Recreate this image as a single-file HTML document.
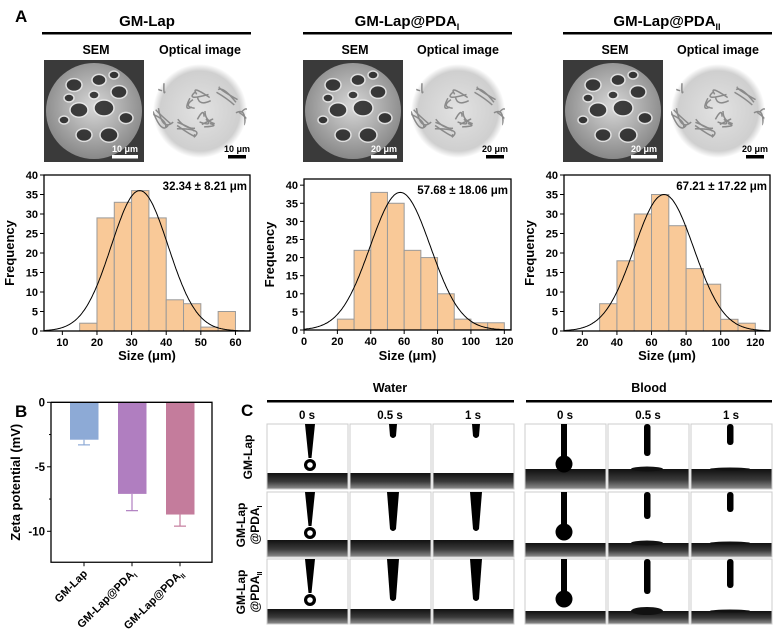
<!DOCTYPE html>
<html><head><meta charset="utf-8"><style>
body{margin:0;background:#fff}
svg{display:block;font-family:"Liberation Sans",Arial,sans-serif;font-weight:bold}
</style></head><body>
<svg id="fig" width="781" height="644" viewBox="0 0 781 644" xmlns="http://www.w3.org/2000/svg">
<defs>
<radialGradient id="semg" cx="50%" cy="45%" r="55%"><stop offset="0" stop-color="#d8d8d8"/><stop offset="1" stop-color="#888"/></radialGradient>
<radialGradient id="optg" cx="50%" cy="50%" r="50%"><stop offset="0" stop-color="#e2e2e2"/><stop offset="0.85" stop-color="#cfcfcf"/><stop offset="1" stop-color="#fff"/></radialGradient>
<linearGradient id="subg" x1="0" y1="0" x2="0" y2="1"><stop offset="0" stop-color="#111"/><stop offset="0.55" stop-color="#3a3a3a"/><stop offset="1" stop-color="#8a8a8a"/></linearGradient>
</defs>
<g id="root"></g>
</svg>
<script>
// ---- Histogram data ----
const h1Bins=[15,20,25,30,35,40,45,50,55];
const h1Counts=[2,29,33,36,29,8,7,1,5];
const h2Bins=[20,30,40,50,60,70,80,90,100,110];
const h2Counts=[3,22,38,35,22,20,10,3,2,2];
const h3Bins=[30,40,50,60,70,80,90,100,110];
const h3Counts=[7,18,30,35,27,16,12,3,2];
const fitMeans=[32.34,57.68,67.21];
const fitSDs=[8.21,18.06,17.22];
const fitPeaks=[36,38,35];
const fitLabels=["32.34 \u00b1 8.21 \u03bcm","57.68 \u00b1 18.06 \u03bcm","67.21 \u00b1 17.22 \u03bcm"];
const h1XTicks=[10,20,30,40,50,60];
const h2XTicks=[0,20,40,60,80,100,120];
const h3XTicks=[20,40,60,80,100,120];
const hYTicks=[0,5,10,15,20,25,30,35,40];
// ---- Zeta data ----
const zCats=["GM-Lap","GM-Lap@PDA_I","GM-Lap@PDA_II"];
const zVals=[-2.9,-7.1,-8.7];
const zErrs=[0.4,1.3,0.9];
const zYTicks=[0,-5,-10];
// ---- Panel C labels ----
const cTimes=["0 s","0.5 s","1 s"];
const cRows=["GM-Lap","GM-Lap@PDA_I","GM-Lap@PDA_II"];

const NS="http://www.w3.org/2000/svg";
const root=document.getElementById('root');
function el(tag,attrs,parent,text){const e=document.createElementNS(NS,tag);for(const k in attrs)e.setAttribute(k,attrs[k]);if(text!==undefined)e.textContent=text;(parent||root).appendChild(e);return e;}
function txt(x,y,s,size,parent,anchor){return el('text',{x:x,y:y,'font-size':size,'text-anchor':anchor||'middle',fill:'#000'},parent,s);}
function subText(x,y,base,sub,size,parent,anchor){const t=el('text',{x:x,y:y,'font-size':size,'text-anchor':anchor||'middle'},parent);el('tspan',{},t,base);el('tspan',{'font-size':size*0.6,dy:size*0.25},t,sub);return t;}

const la=txt(15,22,"A",17,root,'start');



// ---- Top groups ----
const groups=[{cx:147,x0:42,x1:251,t:"GM-Lap",s:"",sem:44,opt:150,sb:"10 \u03bcm"},
{cx:407,x0:303,x1:512,t:"GM-Lap@PDA",s:"I",sem:303,opt:408,sb:"20 \u03bcm"},
{cx:667,x0:563,x1:772,t:"GM-Lap@PDA",s:"II",sem:563,opt:668,sb:"20 \u03bcm"}];
const defs=document.querySelector('defs');
groups.forEach((g,i)=>{
  const G=el('g',{});
  
  
  const t=subText(g.cx,26,g.t,g.s,15,G);
  
  
  el('rect',{x:g.x0,y:32,width:g.x1-g.x0,height:2.5,fill:'#000'},G);
  txt(g.sem+52,54,"SEM",12.5,G);
  txt(g.opt+50,54,"Optical image",12.5,G);
  const s=el('g',{},G);
  
  
  el('rect',{x:g.sem,y:60,width:100,height:102,fill:'#3a3a3a'},s);
  el('circle',{cx:g.sem+50,cy:111,r:48,fill:'url(#semg)'},s);
  const holes=[[30,85,8],[55,80,7],[75,92,8],[35,110,9],[60,108,10],[82,118,7],[40,135,8],[65,135,9],[20,120,5],[50,95,5],[25,98,5],[70,75,5]];
  holes.forEach(h=>el('ellipse',{cx:g.sem+h[0],cy:h[1],rx:h[2],ry:h[2]*0.8,fill:'#1a1a1a',opacity:0.8,stroke:'#eee','stroke-width':1.5},s));
  el('rect',{x:g.sem+68,y:155,width:26,height:3.5,fill:'#fff'},s);
  el('text',{x:g.sem+81,y:152,'font-size':9,'text-anchor':'middle',fill:'#fff'},s,g.sb);
  const cp=el('clipPath',{id:'oc'+i},defs);
  el('circle',{cx:g.opt+50,cy:111,r:47},cp);
  const o=el('g',{},G);
  
  
  el('circle',{cx:g.opt+50,cy:111,r:47,fill:'url(#optg)'},o);
  const oc=el('g',{'clip-path':'url(#oc'+i+')'},o);
  for(let k=0;k<26;k++){const a=k*0.9,r=5+(k*11)%40;const px=g.opt+50+Math.cos(a)*r,py=111+Math.sin(a)*r;
    el('path',{d:`M${px} ${py} q ${12*Math.sin(k)} ${10*Math.cos(k*1.3)} ${18*Math.cos(a+1)} ${14*Math.sin(a+2)}`,stroke:'#8a8a8a',fill:'none','stroke-width':1.5},oc);}
  el('rect',{x:g.opt+78,y:155,width:18,height:3.5,fill:'#000'},o);
  el('text',{x:g.opt+87,y:152,'font-size':9,'text-anchor':'middle'},o,g.sb);
});

// ---- Histograms ----
const hists=[
 {bins:h1Bins,counts:h1Counts,w:5,xt:h1XTicks,x0:44,x1:250,y0:331,y1:175,xmin:4.7,xmax:64.2,ymax:40},
 {bins:h2Bins,counts:h2Counts,w:10,xt:h2XTicks,x0:304,x1:511,y0:330,y1:179,xmin:0,xmax:124,ymax:41.7},
 {bins:h3Bins,counts:h3Counts,w:10,xt:h3XTicks,x0:564,x1:770,y0:331,y1:175,xmin:9.4,xmax:128.5,ymax:40}];
hists.forEach((h,i)=>{
  const G=el('g',{});
  
  
  const X=v=>h.x0+(v-h.xmin)/(h.xmax-h.xmin)*(h.x1-h.x0);
  const Y=v=>h.y0-v/h.ymax*(h.y0-h.y1);
  h.bins.forEach((b,j)=>{
    const r=el('rect',{x:X(b),y:Y(h.counts[j]),width:X(b+h.w)-X(b),height:h.y0-Y(h.counts[j]),fill:'#f9c998',stroke:'#9a9a9a','stroke-width':1},G);
    
    
  });
  let d="";
  for(let k=0;k<=200;k++){const v=h.xmin+(h.xmax-h.xmin)*k/200;const c=fitPeaks[i]*Math.exp(-0.5*Math.pow((v-fitMeans[i])/fitSDs[i],2));d+=(k?"L":"M")+X(v).toFixed(1)+" "+Y(c).toFixed(1);}
  const fc=el('path',{d:d,fill:'none',stroke:'#000','stroke-width':1},G);
  
  
  el('rect',{x:h.x0,y:h.y1,width:h.x1-h.x0,height:h.y0-h.y1,fill:'none',stroke:'#000','stroke-width':1.3},G);
  hYTicks.forEach(v=>{if(v>h.ymax)return;el('line',{x1:h.x0-4,x2:h.x0,y1:Y(v),y2:Y(v),stroke:'#000'},G);txt(h.x0-6,Y(v)+4,String(v),11,G,'end');});
  h.xt.forEach(v=>{el('line',{x1:X(v),x2:X(v),y1:h.y0,y2:h.y0+4,stroke:'#000'},G);txt(X(v),h.y0+15,String(v),11,G);});
  txt(h.x1-3,h.y1+15,fitLabels[i],11.5,G,'end');
  txt((h.x0+h.x1)/2,360,"Size (\u03bcm)",13,G);
  el('text',{x:0,y:0,'font-size':13,'text-anchor':'middle',transform:`translate(${h.x0-30},${(h.y0+h.y1)/2}) rotate(-90)`},G,"Frequency");
});

// ---- Panel B ----
const lb=txt(15,417,"B",17,root,'start');


(function(){
  const G=el('g',{});
  
  
  const x0=51,x1=212,yTop=402.3,ymin=-12.4,ppu=12.9;
  const Y=v=>yTop-v*ppu;
  const colors=['#8daad6','#b07ec0','#c47c9c'];
  const X=i=>x0+33+i*48;
  zVals.forEach((v,i)=>{
    const r=el('rect',{x:X(i)-14,y:Y(0),width:28.5,height:Y(v)-Y(0),fill:colors[i]},G);
    
    
    el('line',{x1:X(i),x2:X(i),y1:Y(v),y2:Y(v-zErrs[i]),stroke:colors[i],'stroke-width':1.2},G);
    el('line',{x1:X(i)-6,x2:X(i)+6,y1:Y(v-zErrs[i]),y2:Y(v-zErrs[i]),stroke:colors[i],'stroke-width':1.2},G);
    el('line',{x1:X(i),x2:X(i),y1:Y(ymin),y2:Y(ymin)+4,stroke:'#000'},G);
    const parts=zCats[i].split('_');
    const t=el('text',{x:0,y:0,'font-size':11,'text-anchor':'end',transform:`translate(${X(i)+4},${Y(ymin)+12}) rotate(-45)`},G);
    el('tspan',{},t,parts[0]);
    if(parts[1]){el('tspan',{'font-size':7,dy:3},t,parts[1]);}
  });
  el('path',{d:`M${x0} ${Y(0)} V${Y(ymin)} H${x1} V${Y(0)} H${x0}`,fill:'none',stroke:'#000','stroke-width':1.3},G);
  zYTicks.forEach(v=>{el('line',{x1:x0-4,x2:x0,y1:Y(v),y2:Y(v),stroke:'#000'},G);txt(x0-6,Y(v)+4,String(v),11.5,G,'end');});
  [-2.5,-7.5].forEach(v=>{el('line',{x1:x0-2,x2:x0,y1:Y(v),y2:Y(v),stroke:'#000'},G);});
  el('text',{x:0,y:0,'font-size':13,'text-anchor':'middle',transform:`translate(20,${(Y(0)+Y(ymin))/2}) rotate(-90)`},G,"Zeta potential (mV)");
})();

// ---- Panel C ----
const lc=txt(241,416,"C",17,root,'start');


(function(){
  const G=el('g',{});
  
  
  txt(390,392,"Water",12.5,G);txt(649,392,"Blood",12.5,G);
  el('rect',{x:267,y:400,width:247,height:2.5,fill:'#000'},G);
  el('rect',{x:526,y:400,width:246,height:2.5,fill:'#000'},G);
  const colX=[267,350,433,525,608,691];
  const rowY=[424,492,559];
  colX.forEach((cx,c)=>txt(cx+40,419,cTimes[c%3],11.5,G));
  cRows.forEach((r,ri)=>{
    const parts=r.split('@');
    const cy=rowY[ri]+33;
    if(parts.length===1){el('text',{x:0,y:0,'font-size':12,'text-anchor':'middle',transform:`translate(252,${cy}) rotate(-90)`},G,r);}
    else{
      el('text',{x:0,y:0,'font-size':12,'text-anchor':'middle',transform:`translate(245,${cy}) rotate(-90)`},G,"GM-Lap");
      const sp=parts[1].split('_');
      const t=el('text',{x:0,y:0,'font-size':12,'text-anchor':'middle',transform:`translate(259,${cy}) rotate(-90)`},G);
      el('tspan',{},t,'@'+sp[0]);el('tspan',{'font-size':7,dy:3},t,sp[1]);
    }
  });
  rowY.forEach((ry,ri)=>colX.forEach((cx,c)=>{
    const C=el('g',{},G);
    
    
    const w=81,h=65,cxm=cx+43;
    el('rect',{x:cx,y:ry,width:w,height:h,fill:'#fff',stroke:'#ccc'},C);
    const sub=ry+(c<3?[49,48,50][ri]:[45,51,52][ri]);
    el('rect',{x:cx+0.5,y:sub,width:w-1,height:ry+h-sub-0.5,fill:'url(#subg)'},C);
    const t=c%3;
    if(c<3){
      if(t===0){el('path',{d:`M${cxm-5} ${ry} L${cxm+5} ${ry} L${cxm+1.5} ${ry+34} L${cxm-1.5} ${ry+34} Z`,fill:'#000'},C);
        el('circle',{cx:cxm,cy:ry+41,r:6,fill:'#000'},C);el('circle',{cx:cxm,cy:ry+41,r:2.8,fill:'#fff'},C);}
      else{const L=ri===0?12:(ri===1?37:40);const tw=ri===0?4:6;el('path',{d:`M${cxm-tw} ${ry} L${cxm+tw} ${ry} L${cxm+3} ${ry+L} Q${cxm} ${ry+L+4} ${cxm-3} ${ry+L} Z`,fill:'#000'},C);}
    }else{
      const bx=cx+39;
      if(t===0){el('rect',{x:bx-3,y:ry,width:6,height:34,fill:'#000'},C);el('circle',{cx:bx,cy:ry+40,r:8.5,fill:'#000'},C);}
      else{const L=t===1?[32,27,35][ri]:[21,20,29][ri];el('rect',{x:bx-3,y:ry,width:6.5,height:L,rx:3,fill:'#000'},C);
        el('ellipse',{cx:bx,cy:sub,rx:t===1?16:20,ry:t===1?(ri===2?4:2.5):1.5,fill:'#111'},C);}
    }
  }));
})();
</script>
</body></html>
